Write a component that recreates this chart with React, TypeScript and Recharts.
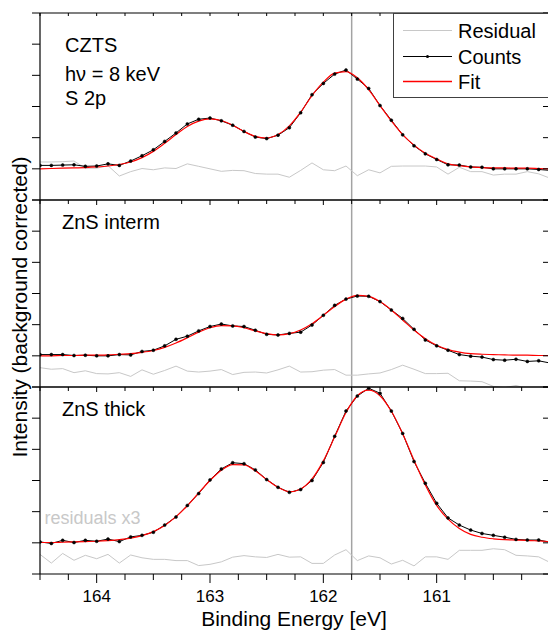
import React from 'react';
import { LineChart, Line, XAxis, YAxis, ReferenceLine } from 'recharts';

// binding energy grid (eV), 0.1 eV steps as measured
const energy = [
  164.5, 164.4, 164.3, 164.2, 164.1, 164.0, 163.9, 163.8, 163.7, 163.6,
  163.5, 163.4, 163.3, 163.2, 163.1, 163.0, 162.9, 162.8, 162.7, 162.6,
  162.5, 162.4, 162.3, 162.2, 162.1, 162.0, 161.9, 161.8, 161.7, 161.6,
  161.5, 161.4, 161.3, 161.2, 161.1, 161.0, 160.9, 160.8, 160.7, 160.6,
  160.5, 160.4, 160.3, 160.2, 160.1, 160.0,
];

const cztsCounts = [
  0.11, 0.11, 0.12, 0.13, 0.08, 0.09, 0.16, 0.11, 0.25, 0.42,
  0.61, 0.88, 1.15, 1.44, 1.59, 1.63, 1.54, 1.40, 1.20, 1.02,
  0.97, 1.08, 1.32, 1.80, 2.38, 2.74, 3.04, 3.17, 2.88, 2.58,
  2.03, 1.56, 1.09, 0.74, 0.48, 0.30, 0.13, 0.12, 0.06, 0.05,
  0.00, 0.00, 0.00, 0.00, -0.02, -0.05,
];
const cztsFit = [
  0.00, 0.01, 0.02, 0.03, 0.04, 0.06, 0.09, 0.14, 0.22, 0.36,
  0.56, 0.82, 1.10, 1.36, 1.53, 1.60, 1.55, 1.40, 1.20, 1.04,
  0.99, 1.10, 1.38, 1.82, 2.35, 2.78, 3.07, 3.12, 2.92, 2.54,
  2.03, 1.54, 1.10, 0.76, 0.50, 0.32, 0.16, 0.10, 0.06, 0.04,
  0.03, 0.03, 0.02, 0.02, 0.01, 0.00,
];
const cztsResid = [
  0.22, 0.22, 0.23, 0.25, 0.02, 0.02, 0.10, -0.23, -0.09, 0.01,
  -0.03, 0.03, 0.01, 0.16, 0.08, 0.00, -0.08, -0.05, -0.06, -0.15,
  -0.17, -0.17, -0.27, -0.05, 0.19, -0.03, -0.06, 0.09, -0.22, -0.03,
  -0.13, 0.08, 0.09, 0.09, 0.09, 0.06, -0.17, 0.05, -0.09, -0.09,
  -0.20, -0.17, -0.17, -0.09, -0.16, -0.30,
];

const intermCounts = [
  0.04, 0.04, 0.04, 0.01, 0.02, 0.00, 0.00, 0.04, 0.03, 0.14,
  0.18, 0.32, 0.53, 0.63, 0.80, 0.94, 1.02, 0.96, 0.94, 0.82,
  0.69, 0.67, 0.72, 0.76, 0.99, 1.30, 1.62, 1.82, 1.92, 1.91,
  1.74, 1.47, 1.20, 0.85, 0.51, 0.32, 0.18, 0.04, -0.01, -0.04,
  -0.12, -0.14, -0.11, -0.18, -0.16, -0.23,
];
const intermFit = [
  0.00, 0.00, 0.01, 0.01, 0.02, 0.02, 0.03, 0.05, 0.07, 0.11,
  0.17, 0.27, 0.41, 0.58, 0.76, 0.90, 0.97, 0.96, 0.90, 0.80,
  0.71, 0.67, 0.71, 0.83, 1.03, 1.30, 1.58, 1.82, 1.94, 1.91,
  1.74, 1.47, 1.15, 0.83, 0.55, 0.34, 0.20, 0.12, 0.07, 0.05,
  0.04, 0.03, 0.02, 0.02, 0.01, 0.01,
];
const intermResid = [
  -0.38, -0.43, -0.41, -0.54, -0.48, -0.57, -0.58, -0.54, -0.66, -0.45,
  -0.59, -0.47, -0.33, -0.49, -0.52, -0.49, -0.44, -0.60, -0.53, -0.52,
  -0.55, -0.45, -0.33, -0.52, -0.51, -0.46, -0.44, -0.62, -0.62, -0.58,
  -0.55, -0.44, -0.30, -0.43, -0.57, -0.57, -0.56, -0.80, -0.81, -0.83,
  -0.98, -1.02, -0.95, -1.05, -1.10, -1.15,
];

const thickCounts = [
  0.03, -0.02, 0.08, 0.01, 0.08, 0.05, 0.12, 0.04, 0.19, 0.24,
  0.34, 0.57, 0.83, 1.20, 1.58, 2.02, 2.37, 2.57, 2.54, 2.34,
  2.03, 1.78, 1.62, 1.71, 2.00, 2.58, 3.42, 4.23, 4.71, 4.96,
  4.80, 4.23, 3.51, 2.61, 1.91, 1.27, 0.80, 0.57, 0.41, 0.30,
  0.24, 0.18, 0.11, 0.09, 0.09, 0.02,
];
const thickFit = [
  0.01, 0.01, 0.02, 0.03, 0.04, 0.05, 0.07, 0.10, 0.15, 0.23,
  0.36, 0.56, 0.84, 1.19, 1.60, 2.00, 2.33, 2.51, 2.50, 2.31,
  2.03, 1.78, 1.64, 1.73, 2.05, 2.63, 3.40, 4.18, 4.72, 4.90,
  4.72, 4.22, 3.50, 2.65, 1.86, 1.20, 0.76, 0.46, 0.27, 0.18,
  0.13, 0.10, 0.09, 0.08, 0.06, 0.04,
];
const thickResid = [
  -0.37, -0.65, -0.34, -0.56, -0.40, -0.51, -0.37, -0.65, -0.39, -0.48,
  -0.53, -0.53, -0.57, -0.57, -0.73, -0.69, -0.61, -0.46, -0.41, -0.45,
  -0.47, -0.37, -0.46, -0.45, -0.66, -0.66, -0.39, -0.22, -0.57, -0.42,
  -0.48, -0.68, -0.56, -0.74, -0.45, -0.45, -0.53, -0.24, -0.24, -0.24,
  -0.19, -0.22, -0.40, -0.42, -0.45, -0.63,
];

const xTicks = [
  164.5, 164.25, 164, 163.75, 163.5, 163.25, 163, 162.75, 162.5, 162.25,
  162, 161.75, 161.5, 161.25, 161, 160.75, 160.5, 160.25, 160,
];
const xLabels = [164, 163, 162, 161];
const yTicks = [-1, 0, 1, 2, 3, 4, 5];
const markerEnergy = 161.75;

const FONT = '"Liberation Sans", Arial, Helvetica, sans-serif';
const PLOT_LEFT = 40;
const PLOT_W = 509;
const CHART_W = 550;
const PANEL_H = 187;
const PAD = 6;

const panels = [
  { id: 'czts', top: 13, topTick: 3, counts: cztsCounts, fit: cztsFit, resid: cztsResid },
  { id: 'interm', top: 200, topTick: 5, counts: intermCounts, fit: intermFit, resid: intermResid },
  { id: 'thick', top: 387, topTick: 5, counts: thickCounts, fit: thickFit, resid: thickResid },
];

const makeTopTick = (len: number) => (props: any) => {
  const { x, y, payload } = props;
  const major = xLabels.includes(payload.value);
  return <line x1={x} x2={x} y1={y} y2={y + (major ? len : Math.max(len - 1, 3))} stroke="#000" strokeWidth={1} />;
};

const BottomTick = (props: any) => {
  const { x, y, payload } = props;
  const major = xLabels.includes(payload.value);
  return (
    <g>
      <line x1={x} x2={x} y1={y} y2={y + (major ? 9 : 6)} stroke="#000" strokeWidth={1} />
      {major && (
        <text x={x} y={y + 28} textAnchor="middle" fontSize={17} fontFamily={FONT} fill="#000">
          {payload.value}
        </text>
      )}
    </g>
  );
};

// y ticks: only the tick line, no label
const NoLabel = () => <g />;

const Panel = ({ p, last }: { p: any; last: boolean }) => {
  const rows = energy.map((e, i) => ({ e, counts: p.counts[i], fit: p.fit[i], resid: p.resid[i] }));
  const bottomPad = last ? 40 : PAD;
  // axes are 1px wide/tall (recharts skips 0-size axes), so margins give up that pixel
  return (
    <div style={{ position: 'absolute', left: 0, top: p.top - PAD }}>
      <LineChart
        width={CHART_W}
        height={PANEL_H + PAD + bottomPad}
        data={rows}
        margin={{ top: PAD - 1, right: CHART_W - PLOT_LEFT - PLOT_W - 1, bottom: bottomPad - 1, left: PLOT_LEFT - 1 }}
      >
        <XAxis
          xAxisId="b"
          dataKey="e"
          type="number"
          domain={[160, 164.5]}
          reversed
          allowDataOverflow
          ticks={xTicks}
          interval={0}
          height={1}
          tickSize={0}
          tickMargin={0}
          tickLine={false}
          tick={last ? BottomTick : false}
          axisLine={{ stroke: '#000', strokeWidth: 1.2 }}
        />
        <XAxis
          xAxisId="t"
          orientation="top"
          dataKey="e"
          type="number"
          domain={[160, 164.5]}
          reversed
          allowDataOverflow
          ticks={xTicks}
          interval={0}
          height={1}
          tickSize={0}
          tickMargin={0}
          tickLine={false}
          tick={makeTopTick(p.topTick)}
          axisLine={{ stroke: '#000', strokeWidth: 1.2 }}
        />
        <YAxis
          yAxisId="l"
          type="number"
          domain={[-1, 5]}
          allowDataOverflow
          ticks={yTicks}
          interval={0}
          width={1}
          tickSize={8}
          tick={NoLabel}
          tickLine={{ stroke: '#000', strokeWidth: 1 }}
          axisLine={{ stroke: '#000', strokeWidth: 1.2 }}
        />
        <YAxis
          yAxisId="r"
          orientation="right"
          mirror
          type="number"
          domain={[-1, 5]}
          allowDataOverflow
          ticks={yTicks}
          interval={0}
          width={1}
          tickSize={7}
          tick={NoLabel}
          tickLine={{ stroke: '#000', strokeWidth: 1 }}
          axisLine={{ stroke: '#000', strokeWidth: 1.2 }}
        />
        <ReferenceLine xAxisId="b" yAxisId="l" x={markerEnergy} stroke="#a3a3a3" strokeWidth={1.5} />
        <Line
          xAxisId="b"
          yAxisId="l"
          dataKey="resid"
          type="linear"
          stroke="#c8c8c8"
          strokeWidth={1}
          dot={false}
          activeDot={false}
          isAnimationActive={false}
        />
        <Line
          xAxisId="b"
          yAxisId="l"
          dataKey="counts"
          type="linear"
          stroke="#000"
          strokeWidth={1}
          dot={{ r: 1.5, fill: '#000', stroke: '#000', strokeWidth: 0.5 }}
          activeDot={false}
          isAnimationActive={false}
        />
        <Line
          xAxisId="b"
          yAxisId="l"
          dataKey="fit"
          type="monotone"
          stroke="#ff0000"
          strokeWidth={1.2}
          dot={false}
          activeDot={false}
          isAnimationActive={false}
        />
      </LineChart>
    </div>
  );
};

export default function App() {
  const txt = { fontFamily: FONT, fill: '#000' };
  return (
    <div style={{ position: 'absolute', left: 0, top: 0, width: 548, height: 631, overflow: 'hidden', background: '#fff' }}>
      {panels.map((p, i) => (
        <Panel key={p.id} p={p} last={i === panels.length - 1} />
      ))}
      <svg width={548} height={631} style={{ position: 'absolute', left: 0, top: 0, pointerEvents: 'none' }}>
        <text {...txt} fontSize={20} x={65} y={52}>CZTS</text>
        <text {...txt} fontSize={20} x={65} y={80.5}>hν = 8 keV</text>
        <text {...txt} fontSize={20} x={65} y={105}>S 2p</text>
        <text {...txt} fontSize={20} x={62} y={229}>ZnS interm</text>
        <text {...txt} fontSize={20} x={62} y={416}>ZnS thick</text>
        <text fontFamily={FONT} fill="#c8c8c8" fontSize={18} x={44.5} y={524}>residuals x3</text>

        <text {...txt} fontSize={21} x={294} y={626} textAnchor="middle">Binding Energy [eV]</text>
        <text {...txt} fontSize={21} transform="translate(27,307) rotate(-90)" textAnchor="middle">
          Intensity (background corrected)
        </text>

        <rect x={393.5} y={13.5} width={160} height={84} fill="#fff" stroke="#404040" strokeWidth={1} />
        <line x1={403} x2={452} y1={30.5} y2={30.5} stroke="#c8c8c8" strokeWidth={1} />
        <line x1={403} x2={452} y1={56.5} y2={56.5} stroke="#000" strokeWidth={1} />
        <circle cx={427.5} cy={56.5} r={1.5} fill="#000" />
        <line x1={403} x2={452} y1={81.5} y2={81.5} stroke="#ff0000" strokeWidth={1.4} />
        <text {...txt} fontSize={20} x={458} y={37.5}>Residual</text>
        <text {...txt} fontSize={20} x={458} y={64}>Counts</text>
        <text {...txt} fontSize={20} x={458} y={89}>Fit</text>
      </svg>
    </div>
  );
}
